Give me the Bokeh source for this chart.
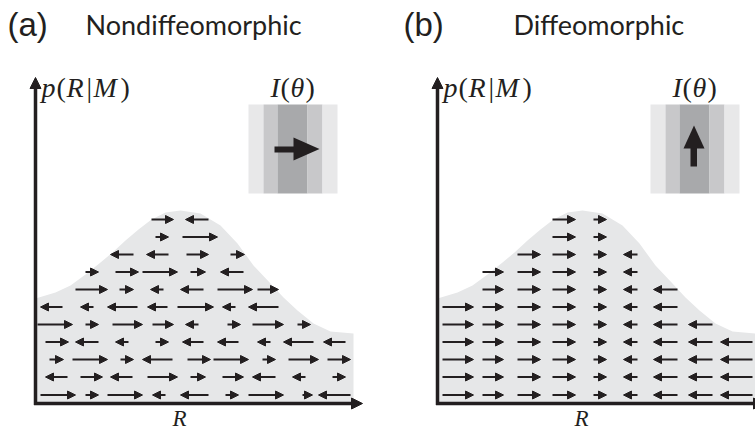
from bokeh.plotting import figure
from bokeh.models import Range1d, Arrow, NormalHead, ColumnDataSource
from bokeh.core.properties import value
from bokeh.embed import file_html
from bokeh.resources import INLINE

# ---------------- data ----------------
# row heights (p units) of the flow arrows, top row first
row_levels = [184, 166.5, 149, 131.5, 114, 96.5, 79, 61.5, 44, 26.5, 8.5]

# density p(R|M) outline (R, p)
curve_r = [0, 20, 35, 50, 65, 77, 90, 103, 116, 130, 145, 165, 185, 202, 218, 235, 248, 262, 278, 295, 318]
curve_p = [105, 111, 118, 129, 141, 151, 163, 174, 184, 191, 193, 190, 178, 160, 138, 120, 106, 93, 80, 72, 70]

# panel (a): per row, list of (tail R, head R)
rows_a = [
    [(116, 138), (173, 150)],
    [(120, 133), (147, 182)],
    [(98, 75), (133, 111), (151, 173), (195, 209)],
    [(50, 63), (80, 103), (107, 142), (155, 170), (208, 185)],
    [(40, 72), (84, 98), (128, 115), (168, 145), (182, 217), (222, 243)],
    [(27, 5), (58, 45), (102, 72), (132, 112), (142, 178), (200, 187), (243, 213)],
    [(2, 37), (50, 63), (77, 107), (117, 138), (163, 150), (192, 205), (217, 248), (262, 275)],
    [(10, 33), (63, 40), (93, 80), (120, 133), (168, 147), (203, 182), (235, 222), (278, 248), (310, 288)],
    [(14, 28), (37, 72), (85, 98), (137, 107), (152, 175), (178, 213), (227, 240), (253, 283), (292, 315)],
    [(32, 10), (45, 67), (97, 75), (112, 142), (155, 170), (187, 208), (240, 217), (270, 257), (297, 310)],
    [(5, 40), (50, 63), (72, 107), (130, 117), (173, 145), (190, 203), (213, 248), (267, 277), (315, 283)],
]

# panel (b): columns (tail R, head R) and index of the top row that is filled
cols_b = [(5, 36), (45, 66), (80, 103), (115, 138), (156, 169), (200, 186), (240, 216), (275, 251), (315, 283)]
cols_b_top = [5, 3, 2, 0, 0, 2, 4, 6, 7]

# inset I(theta): stripe edges and shades
stripe_edges = [213, 228, 242, 272, 287, 302]
stripe_colors = ["#e8e8e9", "#c8c8ca", "#a8a9ab", "#c8c8ca", "#e8e8e9"]
inset_bottom, inset_top = 210, 299

titles = ["(a)", "(b)"]
subtitles = ["Nondiffeomorphic", "Diffeomorphic"]

# ---------------- layout ----------------
W, H = 755, 432
X0, Y0 = -35, -29
SHIFT_B = 402
INK = "#231f20"
FILL = "#e6e7e8"

p = figure(width=W, height=H, x_range=Range1d(X0, X0 + W), y_range=Range1d(Y0, Y0 + H),
           output_backend="svg", toolbar_location=None, min_border=0)
p.axis.visible = False
p.grid.visible = False
p.outline_line_color = None
p.background_fill_color = "white"
p.border_fill_color = "white"

offsets = [0, SHIFT_B]

for off in offsets:
    # filled density
    xs = [curve_r[0] + off] + [r + off for r in curve_r] + [curve_r[-1] + off]
    ys = [0] + curve_p + [0]
    p.patch(xs, ys, fill_color=FILL, line_color=None)
    # inset stripes
    p.quad(left=[e + off for e in stripe_edges[:-1]], right=[e + off for e in stripe_edges[1:]],
           bottom=inset_bottom, top=inset_top, fill_color=stripe_colors, line_color=None)

def add_arrows(x0, x1, y, lw=2, size=8):
    src = ColumnDataSource(dict(x0=x0, x1=x1, y0=y, y1=y))
    p.add_layout(Arrow(source=src, x_start="x0", y_start="y0", x_end="x1", y_end="y1",
                       line_color=INK, line_width=lw,
                       end=NormalHead(size=size, fill_color=INK, line_color=INK, line_width=1)))

# panel (a) arrows
ax0, ax1, ay = [], [], []
for lvl, row in zip(row_levels, rows_a):
    for t, h in row:
        ax0.append(t); ax1.append(h); ay.append(lvl)
add_arrows(ax0, ax1, ay)

# panel (b) arrows
bx0, bx1, by = [], [], []
for (t, h), top in zip(cols_b, cols_b_top):
    for lvl in row_levels[top:]:
        bx0.append(t + SHIFT_B); bx1.append(h + SHIFT_B); by.append(lvl)
add_arrows(bx0, bx1, by)

# axes
for off in offsets:
    for (xs0, ys0, xs1, ys1) in [(off, -1.5, off, 326), (off - 1.5, 0, off + 327, 0)]:
        p.add_layout(Arrow(x_start=xs0, y_start=ys0, x_end=xs1, y_end=ys1,
                           line_color=INK, line_width=3.5,
                           end=NormalHead(size=11, fill_color=INK, line_color=INK, line_width=1)))

# inset arrows
p.quad(left=[239], right=[259], bottom=[251], top=[257], fill_color=INK, line_color=None)
p.patch([258, 284, 258], [243, 254.5, 266], fill_color=INK, line_color=None)
p.quad(left=[253 + SHIFT_B], right=[259.5 + SHIFT_B], bottom=[237], top=[256], fill_color=INK, line_color=None)
p.patch([246 + SHIFT_B, 256.5 + SHIFT_B, 267 + SHIFT_B], [255, 278, 255], fill_color=INK, line_color=None)

# titles
p.text(x=[-28, SHIFT_B - 34], y=[379, 379], text=titles, text_font=value("Liberation Sans"),
       text_font_size=value("33px"), text_color=INK, text_baseline="alphabetic", text_align="left")
p.text(x=[50, SHIFT_B + 76], y=[379, 379], text=subtitles, text_font=value("Lato"),
       text_font_size=value("27px"), text_color=INK, text_baseline="alphabetic", text_align="left")

# math labels as pieces: (text, dx, italic)
lab_p = [("p", 0, True), ("(", 15, False), ("R", 25, True), ("|", 45, False), ("M", 52, True), (")", 79, False)]
lab_i = [("I", 0, True), ("(", 10, False), ("θ", 20, True), (")", 35, False)]

def math_label(pieces, x, y, size):
    for style, flag in [("italic", True), ("normal", False)]:
        sel = [(t, dx) for t, dx, it in pieces if it == flag]
        p.text(x=[x + dx for _, dx in sel], y=[y] * len(sel), text=[t for t, _ in sel],
               text_font=value("Liberation Serif"), text_font_style=style,
               text_font_size=value(size), text_color=INK, text_baseline="alphabetic", text_align="left")

for off in offsets:
    math_label(lab_p, off + 6, 316, "28px")
    math_label(lab_i, off + 235, 316, "28px")
    p.text(x=[off + 144], y=[-15], text=["R"], text_font=value("Liberation Serif"),
           text_font_style="italic", text_font_size=value("23px"), text_color=INK,
           text_baseline="alphabetic", text_align="center")

open("out.html", "w").write(file_html(p, INLINE))
